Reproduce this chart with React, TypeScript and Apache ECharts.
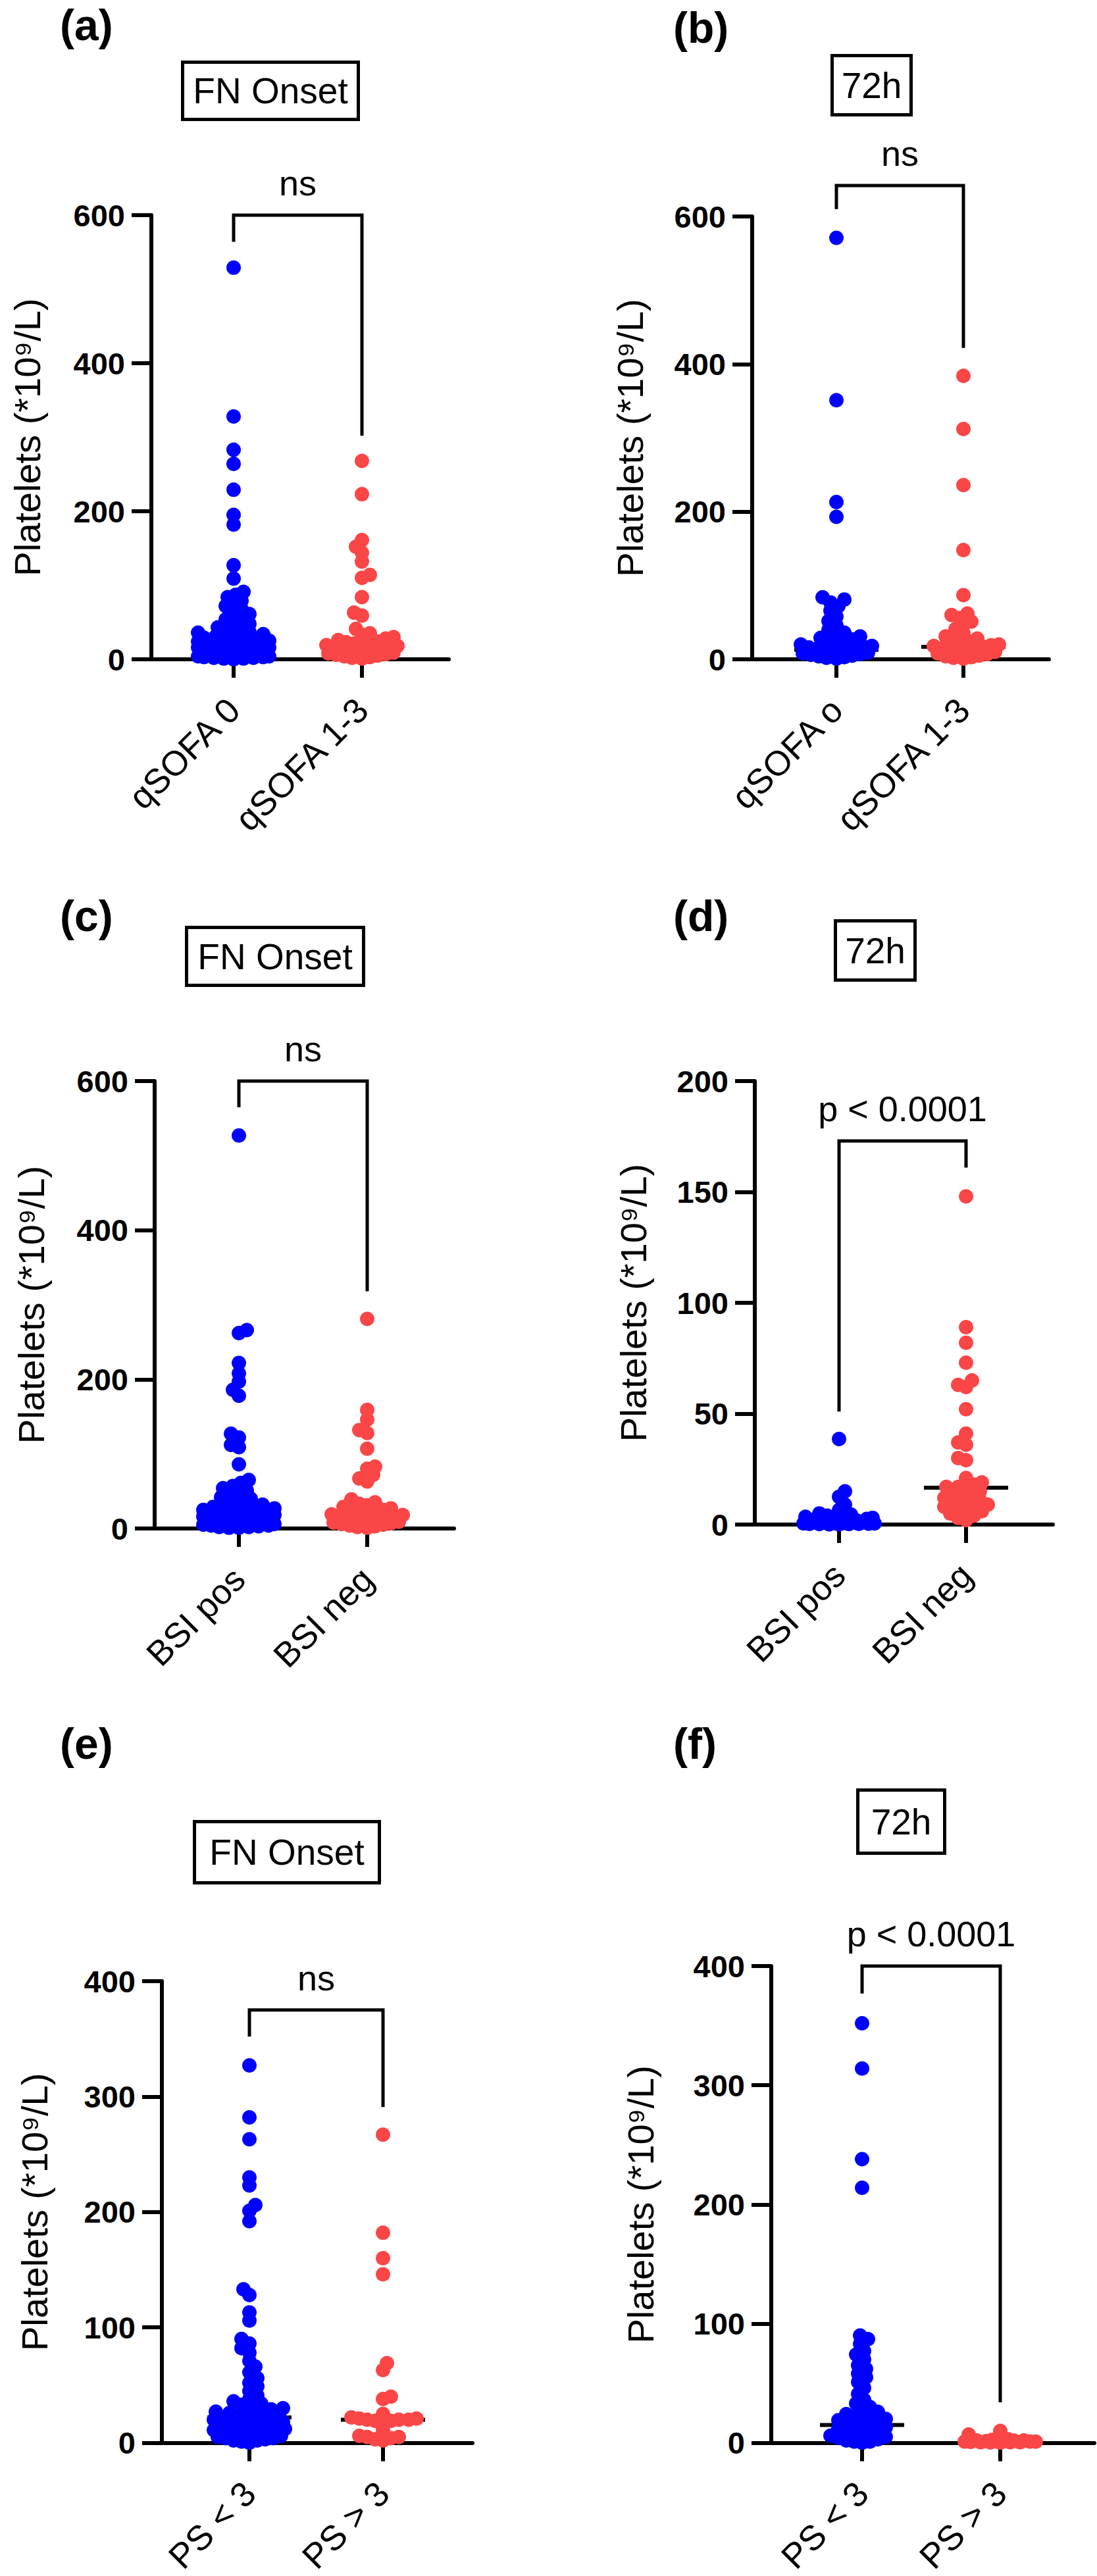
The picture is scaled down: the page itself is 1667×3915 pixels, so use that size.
import * as echarts from 'echarts';
import React, { useEffect, useRef } from 'react';

const FONT = 'Liberation Sans, Arial, Helvetica, sans-serif';
const BLUE = '#0000FF';
const RED = '#FA4646';

const panelLetters = ['(a)', '(b)', '(c)', '(d)', '(e)', '(f)'];
const timeLabels = ['FN Onset', '72h', 'FN Onset', '72h', 'FN Onset', '72h'];
const groupLabels = [
  ['qSOFA 0', 'qSOFA 1-3'],
  ['qSOFA o', 'qSOFA 1-3'],
  ['BSI pos', 'BSI neg'],
  ['BSI pos', 'BSI neg'],
  ['PS < 3', 'PS > 3'],
  ['PS < 3', 'PS > 3'],
];
const yMax = [600, 600, 600, 200, 400, 400];
const yInterval = [200, 200, 200, 50, 100, 100];
const sigLabels = ['ns', 'ns', 'ns', 'p < 0.0001', 'ns', 'p < 0.0001'];
// comparison brackets: end of left leg, top, end of right leg
const bracketLeft = [564, 610, 565, 51, 352, 377];
const bracketTop = [600, 642, 600, 173, 375, 400];
const bracketRight = [302, 422, 318, 161, 291, 34];
const medianFirst = [24, 13, 22, 1, 22, 15];
const medianSecond = [20, 17, 20, 16.6, 20, 1];

// (a) FN onset by qSOFA
const onsetQsofa0 = [529, 328, 283, 264, 229, 195, 182, 127, 109, 91, 87, 84, 79, 76, 72, 68, 65, 61, 57, 54, 51, 48, 46, 43, 41, 39, 37, 36, 34, 33, 31, 30, 29, 28, 27, 26, 25, 25, 24, 23, 23, 22, 21, 21, 20, 19, 19, 18, 17, 17, 16, 16, 15, 14, 14, 13, 12, 12, 11, 11, 10, 9, 9, 8, 8, 7, 7, 6, 6, 5, 5, 4, 4, 3, 3, 2, 2, 1, 1, 0];
const onsetQsofa13 = [268, 223, 161, 152, 144, 132, 114, 110, 84, 63, 59, 41, 35, 33, 30, 28, 26, 24, 23, 22, 21, 20, 19, 18, 17, 16, 15, 14, 13, 12, 11, 10, 9, 8, 7, 6, 5, 4, 3, 2, 1];
// (b) 72h by qSOFA
const h72Qsofa0 = [571, 351, 213, 193, 84, 81, 77, 72, 66, 58, 52, 46, 40, 36, 33, 31, 29, 27, 25, 23, 21, 20, 18, 17, 16, 15, 14, 13, 12, 11, 10, 9, 8, 7, 6, 5, 4, 3, 2, 1];
const h72Qsofa13 = [384, 312, 236, 148, 87, 62, 60, 56, 51, 46, 41, 35, 31, 28, 26, 24, 22, 20, 19, 18, 17, 16, 15, 14, 13, 11, 10, 8, 7, 5, 4, 3, 2, 1];
// (c) FN onset by BSI
const onsetBsiPos = [527, 266, 262, 222, 208, 197, 186, 178, 127, 122, 112, 109, 86, 65, 61, 57, 54, 51, 48, 45, 42, 40, 38, 36, 34, 32, 30, 29, 28, 27, 26, 25, 24, 23, 22, 22, 21, 20, 20, 19, 18, 18, 17, 16, 16, 15, 14, 14, 13, 12, 12, 11, 10, 10, 9, 8, 8, 7, 6, 6, 5, 4, 4, 3, 2, 2, 1, 1];
const onsetBsiNeg = [281, 159, 146, 132, 128, 107, 83, 80, 72, 67, 63, 39, 35, 33, 31, 29, 27, 25, 24, 22, 21, 20, 19, 18, 17, 16, 15, 14, 13, 12, 11, 10, 9, 8, 7, 6, 5, 4, 3, 2, 1];
// (d) 72h by BSI
const h72BsiPos = [38.6, 15, 12.5, 9, 6.5, 5, 4.5, 4, 3.5, 3, 2.5, 2.2, 2, 1.8, 1.5, 1.3, 1.2, 1, 1, 0.9, 0.8, 0.7, 0.6, 0.5, 0.5, 0.4, 0.3, 0.3, 0.2, 0.2, 0.1, 0.1];
const h72BsiNeg = [148, 89, 82, 73, 65, 63, 62, 52, 41, 37, 36, 30, 29, 21, 19, 18, 17, 17, 16, 15, 14, 13, 13, 12, 11, 10, 10, 9, 8, 8, 7, 6, 6, 5, 4, 3, 2];
// (e) FN onset by PS
const onsetPsLow = [327, 282, 263, 230, 223, 206, 201, 192, 133, 128, 113, 106, 90, 86, 82, 78, 71, 66, 61, 56, 52, 49, 45, 41, 38, 36, 34, 33, 31, 30, 29, 28, 27, 26, 25, 24, 24, 23, 22, 22, 21, 20, 20, 19, 18, 18, 17, 16, 16, 15, 14, 14, 13, 12, 12, 11, 10, 10, 9, 8, 8, 7, 6, 6, 5, 4, 4, 3, 2, 2, 1, 0];
const onsetPsHigh = [267, 182, 160, 146, 69, 63, 40, 38, 25, 22, 21, 21, 20, 20, 20, 19, 19, 18, 11, 6, 5, 5, 4, 3, 2];
// (f) 72h by PS
const h72PsLow = [352, 314, 238, 214, 90, 87, 83, 77, 74, 70, 65, 62, 58, 55, 51, 46, 41, 36, 33, 30, 28, 26, 24, 23, 22, 21, 20, 19, 18, 17, 16, 15, 14, 13, 12, 11, 10, 9, 8, 7, 6, 5, 4, 3, 2, 1, 1, 0];
const h72PsHigh = [10, 7, 3, 2.5, 2, 2, 1.8, 1.5, 1.5, 1.2, 1, 1, 1, 0.8, 0.5, 0.5, 0.5, 0.3, 0.2];

const groupValues = [
  [onsetQsofa0, onsetQsofa13],
  [h72Qsofa0, h72Qsofa13],
  [onsetBsiPos, onsetBsiNeg],
  [h72BsiPos, h72BsiNeg],
  [onsetPsLow, onsetPsHigh],
  [h72PsLow, h72PsHigh],
];

// pixel layout of each panel on the page
const layout = [
  { axisX: 230, top: 327, zero: 1002, right: 682, c1: 355, c2: 550, nameGap: 161, letter: [91, 5], box: [275, 92, 272, 92] },
  { axisX: 1143, top: 329, zero: 1002, right: 1594, c1: 1271, c2: 1464, nameGap: 158, letter: [1023, 9], box: [1262, 82, 125, 95] },
  { axisX: 235, top: 1643, zero: 2323, right: 690, c1: 363, c2: 558, nameGap: 160, letter: [91, 1359], box: [281, 1407, 274, 93] },
  { axisX: 1147, top: 1643, zero: 2317, right: 1600, c1: 1275, c2: 1468, nameGap: 157, letter: [1023, 1359], box: [1267, 1397, 126, 95] },
  { axisX: 246, top: 3011, zero: 3720, right: 718, c1: 379, c2: 582, nameGap: 166, letter: [91, 2617], box: [293, 2766, 286, 98] },
  { axisX: 1172, top: 2988, zero: 3720, right: 1663, c1: 1310, c2: 1520, nameGap: 171, letter: [1023, 2617], box: [1301, 2718, 137, 101] },
];

const DOT = 22;
const MEDIAN_HALF = 64;
const SIG_GAP = 22;

// simple beeswarm: horizontal pixel offsets so dots spread out, capped in width
function swarmOffsets(values: number[], pxPerValue: number): number[] {
  const minDist = DOT * 0.55;
  const step = 3;
  const maxHalf = 54;
  const order = values.map((_, i) => i).sort((a, b) => values[a] - values[b]);
  const placed: number[][] = [];
  const offsets: number[] = new Array(values.length).fill(0);
  let side = 1;
  order.forEach((i) => {
    const y = values[i] * pxPerValue;
    const candidates = [0];
    for (let k = step; k <= maxHalf; k += step) candidates.push(side * k, -side * k);
    let best = 0;
    let bestGap = -1;
    for (const x of candidates) {
      let gap = Infinity;
      for (const p of placed) gap = Math.min(gap, Math.hypot(p[0] - x, p[1] - y));
      if (gap >= minDist) {
        best = x;
        break;
      }
      if (gap > bestGap) {
        bestGap = gap;
        best = x;
      }
    }
    side = -side;
    offsets[i] = best;
    placed.push([best, y]);
  });
  return offsets;
}

function buildOption(): echarts.EChartsOption {
  const grid: any[] = [];
  const xAxis: any[] = [];
  const yAxis: any[] = [];
  const series: any[] = [];
  const graphic: any[] = [];

  layout.forEach((p, i) => {
    const unit = p.c2 - p.c1;
    const xMin = 1 - (p.c1 - p.axisX) / unit;
    const xMax = xMin + (p.right - p.axisX) / unit;
    const pxPerValue = (p.zero - p.top) / yMax[i];
    const names = groupLabels[i];

    grid.push({ left: p.axisX, top: p.top, width: p.right - p.axisX, height: p.zero - p.top });
    xAxis.push({
      gridIndex: i,
      type: 'value',
      min: xMin,
      max: xMax,
      splitLine: { show: false },
      axisLine: { show: true, onZero: false, lineStyle: { color: '#000', width: 6 } },
      axisTick: { show: true, customValues: [1, 2], length: 28, lineStyle: { color: '#000', width: 6 } },
      axisLabel: {
        customValues: [1, 2],
        formatter: (v: number) => names[Math.round(v) - 1] ?? '',
        rotate: 45,
        margin: 68,
        fontSize: 53,
        color: '#000',
        fontFamily: FONT,
      },
    });
    yAxis.push({
      gridIndex: i,
      type: 'value',
      min: 0,
      max: yMax[i],
      interval: yInterval[i],
      splitLine: { show: false },
      axisLine: { show: true, onZero: false, lineStyle: { color: '#000', width: 6 } },
      axisTick: { show: true, length: 30, lineStyle: { color: '#000', width: 6 } },
      axisLabel: { margin: 40, fontSize: 47, fontWeight: 'bold', color: '#000', fontFamily: FONT },
      name: 'Platelets (*10\u2079/L)',
      nameLocation: 'middle',
      nameGap: p.nameGap,
      nameTextStyle: { fontSize: 56, color: '#000', fontFamily: FONT },
    });

    const medians = [medianFirst[i], medianSecond[i]];
    groupValues[i].forEach((vals, g) => {
      const cat = g + 1;
      const offs = swarmOffsets(vals, pxPerValue);
      series.push({
        type: 'scatter',
        xAxisIndex: i,
        yAxisIndex: i,
        symbolSize: DOT,
        clip: false,
        z: 3,
        itemStyle: { color: g === 0 ? BLUE : RED, opacity: 1 },
        data: vals.map((v, k) => [cat + offs[k] / unit, v]),
      });
      series.push({
        type: 'line',
        xAxisIndex: i,
        yAxisIndex: i,
        symbol: 'none',
        z: 2,
        lineStyle: { color: '#000', width: 6 },
        data: [
          [cat - MEDIAN_HALF / unit, medians[g]],
          [cat + MEDIAN_HALF / unit, medians[g]],
        ],
      });
    });

    series.push({
      type: 'line',
      xAxisIndex: i,
      yAxisIndex: i,
      symbol: 'none',
      clip: false,
      z: 4,
      lineStyle: { color: '#000', width: 5, join: 'miter', cap: 'butt' },
      data: [
        [1, bracketLeft[i]],
        [1, bracketTop[i]],
        [2, bracketTop[i]],
        [2, bracketRight[i]],
      ],
    });

    const [bx, by, bw, bh] = p.box;
    graphic.push(
      {
        type: 'text',
        x: p.letter[0],
        y: p.letter[1],
        style: { text: panelLetters[i], fontSize: 66, fontWeight: 'bold', fontFamily: FONT, fill: '#000', align: 'left', verticalAlign: 'top' },
      },
      {
        type: 'rect',
        shape: { x: bx + 2.5, y: by + 2.5, width: bw - 5, height: bh - 5 },
        style: { fill: '#fff', stroke: '#000', lineWidth: 5 },
      },
      {
        type: 'text',
        x: bx + bw / 2,
        y: by + bh / 2,
        style: { text: timeLabels[i], fontSize: 55, fontFamily: FONT, fill: '#000', align: 'center', verticalAlign: 'middle' },
      },
    );
  });

  return {
    animation: false,
    backgroundColor: '#fff',
    textStyle: { fontFamily: FONT },
    grid,
    xAxis,
    yAxis,
    series,
    graphic,
  };
}

const PlateletPanels: React.FC = () => {
  const chartRef = useRef<HTMLDivElement>(null);

  useEffect(() => {
    if (!chartRef.current) return;
    const instance = echarts.init(chartRef.current, undefined, { renderer: 'svg' });
    const option = buildOption();
    instance.setOption(option);
    // significance texts, placed above each bracket through the grid's own scale
    const sigTexts = layout.map((_, i) => {
      const pt = instance.convertToPixel({ gridIndex: i }, [1.5, bracketTop[i]]) as number[];
      return {
        type: 'text',
        x: pt[0],
        y: pt[1] - SIG_GAP,
        style: { text: sigLabels[i], fontSize: 54, fontFamily: FONT, fill: '#000', align: 'center', verticalAlign: 'bottom' },
      };
    });
    instance.setOption({ graphic: [...(option.graphic as any[]), ...sigTexts] });
    return () => {
      instance.dispose();
    };
  }, []);

  return (
    <div
      ref={chartRef}
      style={{ position: 'absolute', left: 0, top: 0, width: 1667, height: 3915, background: '#fff' }}
    />
  );
};

export default PlateletPanels;
